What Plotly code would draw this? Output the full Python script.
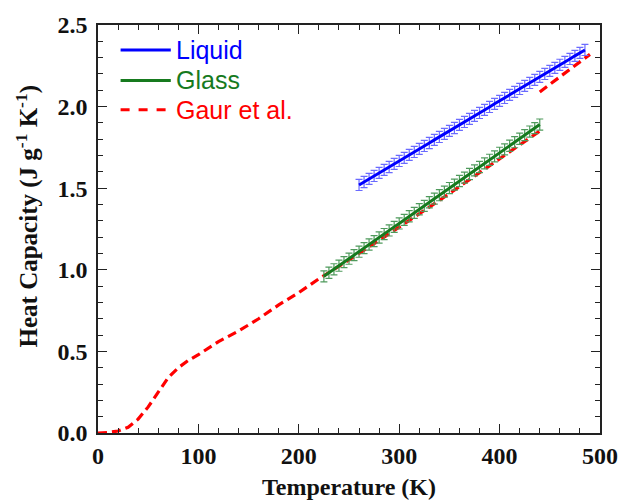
import plotly.graph_objects as go

# ---- data ----
liquid_T = [260, 265, 270, 275, 280, 285, 290, 295, 300, 305, 310, 315, 320, 325, 330,
            335, 340, 345, 350, 355, 360, 365, 370, 375, 380, 385, 390, 395, 400, 405,
            410, 415, 420, 425, 430, 435, 440, 445, 450, 455, 460, 465, 470, 475, 480, 485]
liquid_Cp = [1.520, 1.538, 1.557, 1.575, 1.594, 1.612, 1.630, 1.649, 1.667, 1.686, 1.704,
             1.722, 1.741, 1.759, 1.777, 1.796, 1.814, 1.833, 1.851, 1.869, 1.888, 1.906,
             1.925, 1.943, 1.961, 1.980, 1.998, 2.017, 2.035, 2.053, 2.072, 2.090, 2.108,
             2.127, 2.145, 2.164, 2.182, 2.200, 2.219, 2.237, 2.256, 2.274, 2.292, 2.311,
             2.329, 2.347]
liquid_err = 0.034

glass_T = [225, 230, 235, 240, 245, 250, 255, 260, 265, 270, 275, 280, 285, 290, 295,
           300, 305, 310, 315, 320, 325, 330, 335, 340, 345, 350, 355, 360, 365, 370,
           375, 380, 385, 390, 395, 400, 405, 410, 415, 420, 425, 430, 435, 440]
glass_Cp = [0.960, 0.982, 1.003, 1.025, 1.047, 1.068, 1.090, 1.111, 1.133, 1.155, 1.176,
            1.198, 1.219, 1.241, 1.263, 1.284, 1.306, 1.328, 1.349, 1.371, 1.392, 1.414,
            1.436, 1.457, 1.479, 1.501, 1.522, 1.544, 1.565, 1.587, 1.609, 1.630, 1.652,
            1.674, 1.695, 1.717, 1.738, 1.760, 1.782, 1.803, 1.825, 1.847, 1.868, 1.890]
glass_err = 0.034

gaur_T = [0, 10, 20, 30, 40, 50, 60, 70, 80, 90, 100, 120, 140, 160, 180, 200, 220, 240,
          260, 280, 300, 320, 340, 360, 380, 400, 420, 440,
          None,
          440, 460, 480, 490]
gaur_Cp = [0.0, 0.003, 0.012, 0.035, 0.085, 0.16, 0.25, 0.34, 0.40, 0.445, 0.48, 0.56,
           0.625, 0.70, 0.785, 0.86, 0.945, 1.02, 1.10, 1.18, 1.26, 1.34, 1.425,
           1.51, 1.595, 1.68, 1.765, 1.85,
           None,
           2.09, 2.18, 2.27, 2.32]

x_ticks = [0, 100, 200, 300, 400, 500]
y_ticks = [0.0, 0.5, 1.0, 1.5, 2.0, 2.5]
y_ticklabels = ["0.0", "0.5", "1.0", "1.5", "2.0", "2.5"]

legend_names = ["Liquid", "Glass", "Gaur et al."]

BLUE = "#0000ff"
BLUE_ERR = "#6a6aff"
GREEN = "#167a1e"
GREEN_ERR = "#4f9a5c"
RED = "#ff0000"

fig = go.Figure()

fig.add_trace(go.Scatter(
    x=gaur_T, y=gaur_Cp, mode="lines", name=legend_names[2],
    line=dict(color=RED, width=3.2, dash="9px,5px"), connectgaps=False,
    showlegend=False))

fig.add_trace(go.Scatter(
    x=glass_T, y=glass_Cp, mode="lines", name=legend_names[1],
    line=dict(color=GREEN, width=3),
    error_y=dict(type="constant", value=glass_err, color=GREEN_ERR, thickness=1.2, width=3.5),
    showlegend=False))

fig.add_trace(go.Scatter(
    x=liquid_T, y=liquid_Cp, mode="lines", name=legend_names[0],
    line=dict(color=BLUE, width=3),
    error_y=dict(type="constant", value=liquid_err, color=BLUE_ERR, thickness=1.2, width=3.5),
    showlegend=False))

# ---- manual legend (paper coordinates) ----
legend_rows = [(legend_names[0], BLUE, "solid", 0.939),
               (legend_names[1], GREEN, "solid", 0.864),
               (legend_names[2], RED, "dash", 0.792)]
for name, col, dsh, yy in legend_rows:
    fig.add_shape(type="line", xref="paper", yref="paper",
                  x0=0.045, x1=0.145, y0=yy, y1=yy,
                  line=dict(color=col, width=3, dash=dsh))
    fig.add_annotation(xref="paper", yref="paper", x=0.152, y=yy,
                       text=name, showarrow=False, xanchor="left", yanchor="middle",
                       font=dict(family="Liberation Sans, Arial", size=25, color=col))

# ---- axis titles ----
fig.add_annotation(xref="paper", yref="paper", x=0.5, y=-0.132,
                   text="<b>Temperature (K)</b>", showarrow=False,
                   xanchor="center", yanchor="middle",
                   font=dict(family="Liberation Serif, Times New Roman", size=24, color="#111"))
fig.add_annotation(xref="paper", yref="paper", x=-0.14, y=0.53,
                   text="<b>Heat Capacity (J g<sup>-1</sup> K<sup>-1</sup>)</b>",
                   showarrow=False, textangle=-90,
                   xanchor="center", yanchor="middle",
                   font=dict(family="Liberation Serif, Times New Roman", size=25, color="#111"))

axis_common = dict(
    showline=True, linecolor="#222", linewidth=1.6, mirror="allticks",
    ticks="inside", ticklen=9, tickwidth=1.4, tickcolor="#222",
    showgrid=False, zeroline=False,
    tickfont=dict(family="Liberation Serif, Times New Roman", size=24, color="#111"),
)

fig.update_xaxes(range=[0, 500], tickvals=x_ticks,
                 ticktext=[f"<b>{v}</b>" for v in x_ticks],
                 minor=dict(ticks="inside", ticklen=5, dtick=20, tickwidth=1.2, tickcolor="#222"),
                 **axis_common)
fig.update_yaxes(range=[0, 2.5], tickvals=y_ticks,
                 ticktext=[f"<b>{t}</b>" for t in y_ticklabels],
                 minor=dict(ticks="inside", ticklen=5, dtick=0.1, tickwidth=1.2, tickcolor="#222"),
                 ticklabelstandoff=4,
                 **axis_common)

fig.update_layout(
    width=630, height=501,
    margin=dict(l=98, r=20, t=24, b=68),
    plot_bgcolor="white", paper_bgcolor="white",
    showlegend=False,
)

fig.write_html("out.html", config={"displayModeBar": False},
               post_script="document.body.style.margin='0';document.body.style.padding='0';"
                           "document.body.style.overflow='hidden';")
